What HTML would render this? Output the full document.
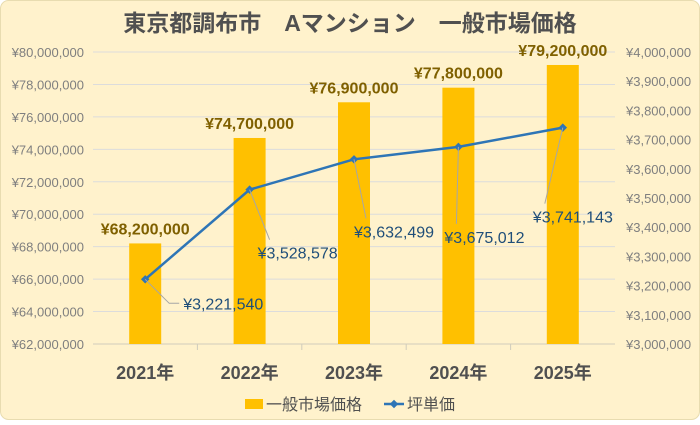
<!DOCTYPE html>
<html><head><meta charset="utf-8"><style>
body{margin:0;background:#fff}
svg text{font-family:"Liberation Sans","Noto Sans CJK JP",sans-serif}
</style></head><body>
<svg width="700" height="420" viewBox="0 0 700 420">
<rect x="0.5" y="0.5" width="699" height="419" rx="8" fill="#FFF2CC" stroke="#e8dcb0"/>
<text x="350" y="31" text-anchor="middle" font-size="23" font-weight="bold" fill="#505050">東京都調布市　Aマンション　一般市場価格</text>
<g id="grid"></g><g id="bars"></g><g id="line"></g><g id="labels"></g>
<g>
<rect x="245" y="399" width="18" height="10" fill="#FFC000"/>
<text x="266" y="410" font-size="16" fill="#505050">一般市場価格</text>
<line x1="384" y1="404" x2="404" y2="404" stroke="#2E75B6" stroke-width="2.5"/>
<rect x="391" y="401" width="6" height="6" transform="rotate(45 394 404)" fill="#2E75B6"/>
<text x="407" y="410" font-size="16" fill="#505050">坪単価</text>
</g>
</svg>
<script>
const categories=["2021年","2022年","2023年","2024年","2025年"];
const marketPrice=[68200000,74700000,76900000,77800000,79200000];
const tsuboPrice=[3221540,3528578,3632499,3675012,3741143];
const leftTicks=[62000000,64000000,66000000,68000000,70000000,72000000,74000000,76000000,78000000,80000000];
const rightTicks=[3000000,3100000,3200000,3300000,3400000,3500000,3600000,3700000,3800000,3900000,4000000];
const NS="http://www.w3.org/2000/svg";
const L=93,R=615,T=52,B=344;
const yL=v=>B-(v-62000000)/18000000*(B-T);
const yR=v=>B-(v-3000000)/1000000*(B-T);
const cw=(R-L)/categories.length;
const xC=i=>L+cw*(i+0.5);
const fmt=v=>"¥"+v.toLocaleString("en-US");
function mk(tag,attrs,parent,text){const e=document.createElementNS(NS,tag);for(const k in attrs)e.setAttribute(k,attrs[k]);if(text!==undefined)e.textContent=text;document.getElementById(parent).appendChild(e);return e;}
leftTicks.forEach(v=>{const y=yL(v);
const g=mk("line",{x1:L,x2:R,y1:y,y2:y,stroke:v===62000000?"#d0ccbc":"#dcdcdc","stroke-width":1},"grid");


const t=mk("text",{x:84,y:y+5,"text-anchor":"end","font-size":13,fill:"#7f7f7f"},"grid",fmt(v));

});
rightTicks.forEach(v=>{const t=mk("text",{x:626,y:yR(v)+5,"font-size":13,fill:"#7f7f7f"},"grid",fmt(v));

});
categories.forEach((c,i)=>{const tx=L+cw*(i+1);
if(i<categories.length-1){const tk=mk("line",{x1:tx,x2:tx,y1:B,y2:B+6,stroke:"#d0ccbc"},"grid");

}
const t=mk("text",{x:xC(i),y:379,"text-anchor":"middle","font-size":18,"font-weight":"bold",fill:"#505050"},"grid",c);

});
marketPrice.forEach((v,i)=>{const y=yL(v);
const b=mk("rect",{x:xC(i)-16,y:y,width:32,height:B-y,fill:"#FFC000"},"bars");


const t=mk("text",{x:xC(i),y:y-9,"text-anchor":"middle","font-size":16,"font-weight":"bold",fill:"#7F6000"},"labels",fmt(v));

});
const pts=tsuboPrice.map((v,i)=>[xC(i),yR(v)]);
const pl=mk("polyline",{points:pts.map(p=>p.join(",")).join(" "),fill:"none",stroke:"#2E75B6","stroke-width":2.5},"line");


// label offsets relative to point (layout, not data)
const ldx=[38,8,0,-14,-30];
const ldy=[30,69,78,96,95];
pts.forEach((p,i)=>{
const m=mk("rect",{x:p[0]-3,y:p[1]-3,width:6,height:6,transform:`rotate(45 ${p[0]} ${p[1]})`,fill:"#2E75B6"},"line");


const lx=p[0]+ldx[i], ty=p[1]+ldy[i];
const ld=mk("polyline",{points:i===0?`${p[0]},${p[1]} ${lx-14},${ty-6} ${lx-4},${ty-6}`:`${p[0]},${p[1]} ${lx+12},${ty-19}`,fill:"none",stroke:"#a6a6a6","stroke-width":1},"labels");


const t=mk("text",{x:lx,y:ty,"font-size":16,fill:"#1F4E79"},"labels",fmt(tsuboPrice[i]));

});
</script>
</body></html>
